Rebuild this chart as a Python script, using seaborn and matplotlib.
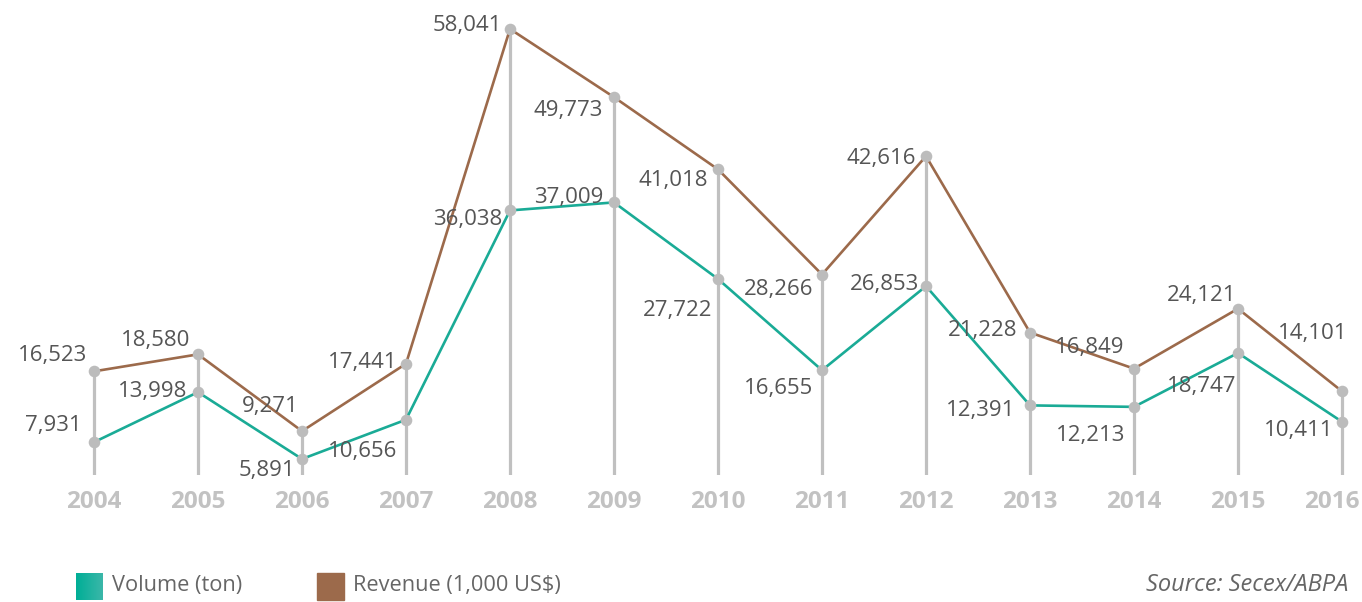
import numpy as np
import pandas as pd
import matplotlib
matplotlib.use("Agg")
import matplotlib.pyplot as plt
import matplotlib.transforms as mtransforms
from matplotlib.colors import LinearSegmentedColormap
from matplotlib.patches import Rectangle
import seaborn as sns

# Chart data
years = ["2004", "2005", "2006", "2007", "2008", "2009", "2010",
         "2011", "2012", "2013", "2014", "2015", "2016"]
volume = [7931, 13998, 5891, 10656, 36038, 37009, 27722,
          16655, 26853, 12391, 12213, 18747, 10411]
revenue = [16523, 18580, 9271, 17441, 58041, 49773, 41018,
           28266, 42616, 21228, 16849, 24121, 14101]

# label offsets in pixels (dx, dy) from each point, text right aligned
vol_off = [(-12, 20), (-11, 4), (-7, -9), (-9, -29), (-8, -6), (-11, 8), (-6, -29),
           (-9, -15), (-7, 5), (-15, -2), (-9, -26), (-2, -31), (-9, -6)]
rev_off = [(-7, 19), (-8, 17), (-3, 28), (-9, 4), (-8, 6), (-11, -10), (-10, -8),
           (-9, -12), (-10, 1), (-13, 5), (-10, 24), (-2, 16), (5, 61)]

teal = "#1aab96"
brown = "#9c6a4b"
gray_pt = "#bcbcbc"
gray_line = "#c0c0c0"
txt = "#555555"

sns.set_style("white")
plt.rcParams['font.family'] = ['Open Sans', 'DejaVu Sans']

df = pd.DataFrame({"idx": np.arange(len(years)), "year": years,
                   "volume": volume, "revenue": revenue})

fig = plt.figure(figsize=(13.62, 6.02), dpi=100)
ax = fig.add_axes([42 / 1362, 127 / 602, 1315.6 / 1362, 465 / 602])

# vertical drop lines
ybot = 3950
ax.vlines(df.idx, ybot, df.revenue, color=gray_line, linewidth=2.3, zorder=1)

sns.lineplot(data=df, x="idx", y="revenue", color=brown, linewidth=1.9, ax=ax, zorder=2)
sns.lineplot(data=df, x="idx", y="volume", color=teal, linewidth=1.9, ax=ax, zorder=2)

for col in ["revenue", "volume"]:
    sns.scatterplot(data=df, x="idx", y=col, color=gray_pt, s=70, linewidth=0,
                    ax=ax, zorder=3, clip_on=False)

# value labels (digits sit a little low in the text box, so nudge down 3px)
for i in range(len(years)):
    ax.annotate(f"{volume[i]:,}", (i, volume[i]),
                xytext=(vol_off[i][0], vol_off[i][1] - 3),
                textcoords="offset pixels", ha="right", va="center",
                fontsize=16, color=txt)
    ax.annotate(f"{revenue[i]:,}", (i, revenue[i]),
                xytext=(rev_off[i][0], rev_off[i][1] - 3),
                textcoords="offset pixels", ha="right", va="center",
                fontsize=16, color=txt)

ax.set_xlim(-0.5, 12.15)
ax.set_ylim(ybot, 60345)
ax.set_xticks(df.idx)
ax.set_xticklabels(years, fontsize=17.5, fontweight="bold", color="#c2c2c2")
ax.tick_params(axis="x", length=0, pad=11)
ax.set_yticks([])
ax.set_xlabel("")
ax.set_ylabel("")
sns.despine(ax=ax, left=True, bottom=True)

# last year label sits against the right edge
last = ax.get_xticklabels()[-1]
last.set_transform(last.get_transform() +
                   mtransforms.ScaledTranslation(-0.1, 0, fig.dpi_scale_trans))

# legend
grad = LinearSegmentedColormap.from_list("tealgrad", ["#00ae96", "#3bb7a9"])
lax = fig.add_axes([76 / 1362, 2 / 602, 27 / 1362, 27 / 602])
lax.imshow(np.linspace(0, 1, 50).reshape(1, -1), cmap=grad, aspect="auto")
lax.axis("off")
fig.patches.append(Rectangle((317 / 1362, 2 / 602), 27 / 1362, 27 / 602,
                             transform=fig.transFigure, color="#9c6a4b", figure=fig))
fig.text(112 / 1362, 17 / 602, "Volume (ton)", fontsize=15.7, color="#666666", va="center")
fig.text(353 / 1362, 17 / 602, "Revenue (1,000 US$)", fontsize=15.7, color="#666666", va="center")
fig.text(1348 / 1362, 17 / 602, "Source: Secex/ABPA", fontsize=17, color="#666666",
         va="center", ha="right", style="italic")

fig.savefig("out.png", dpi=100)
